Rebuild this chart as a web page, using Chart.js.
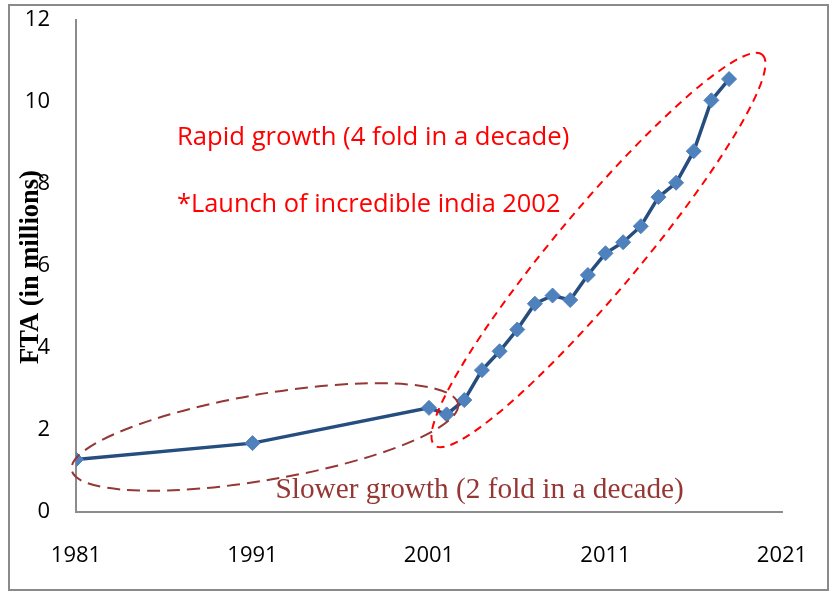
<!DOCTYPE html>
<html>
<head>
<meta charset="utf-8">
<script src="https://cdn.jsdelivr.net/npm/chart.js@4/dist/chart.umd.min.js"></script>
<style>
  html, body { margin: 0; padding: 0; background: #fff; }
  #wrap { width: 835px; height: 595px; position: relative; }
</style>
</head>
<body>
<div id="wrap"><canvas id="ftaChart" width="835" height="595"></canvas></div>
<script>
// data
const years = [1981, 1991, 2001, 2002, 2003, 2004, 2005, 2006, 2007, 2008, 2009, 2010, 2011, 2012, 2013, 2014, 2015, 2016, 2017, 2018];
const fta = [1.28, 1.68, 2.54, 2.38, 2.73, 3.46, 3.92, 4.45, 5.08, 5.28, 5.17, 5.78, 6.31, 6.58, 6.97, 7.68, 8.03, 8.80, 10.04, 10.56];
const xTicks = [1981, 1991, 2001, 2011, 2021];
const yTicks = [0, 2, 4, 6, 8, 10, 12];
const yTitle = 'FTA (in millions)';
const rapidNotes = ['Rapid growth (4 fold in a decade)', '*Launch of incredible india 2002'];
const slowNote = 'Slower growth (2 fold in a decade)';

// draw text scaled so it spans the given width
const fitText = (ctx, text, px, py, width, family, weight) => {
    ctx.font = `${weight} 20px ${family}`;
    const size = 20 * width / ctx.measureText(text).width;
    ctx.font = `${weight} ${size.toFixed(1)}px ${family}`;
    ctx.fillText(text, px, py);
};

// Frame + annotations drawn on top of the chart
const annotations = {
    id: 'annotations',
    beforeDraw(chart) {
        const ctx = chart.ctx;
        ctx.save();
        ctx.fillStyle = '#fff';
        ctx.fillRect(0, 0, chart.width, chart.height);
        ctx.strokeStyle = '#8a8a8a';
        ctx.lineWidth = 2;
        ctx.strokeRect(9, 5, 819, 585);
        ctx.restore();
    },
    afterDraw(chart) {
        const ctx = chart.ctx;
        const x = chart.scales.x;
        const y = chart.scales.y;

        const ellipse = (year, val, rx, ry, deg, color, dash, width) => {
            ctx.save();
            ctx.beginPath();
            ctx.ellipse(x.getPixelForValue(year), y.getPixelForValue(val), rx, ry, deg * Math.PI / 180, 0, Math.PI * 2);
            ctx.setLineDash(dash);
            ctx.strokeStyle = color;
            ctx.lineWidth = width;
            ctx.stroke();
            ctx.restore();
        };

        // Slower growth ellipse
        ellipse(1991.7, 1.83, 196, 43, -9.7, '#953735', [13, 7], 2);
        // Rapid growth ellipse
        ellipse(2010.6, 6.39, 255, 42, -50, '#ff0000', [8, 6], 2);

        ctx.save();
        ctx.textBaseline = 'alphabetic';
        ctx.fillStyle = '#ff0000';
        fitText(ctx, rapidNotes[0], x.getPixelForValue(1986.72), 145, 393, '"Open Sans"', 'normal');
        fitText(ctx, rapidNotes[1], x.getPixelForValue(1986.72), 212, 383, '"Open Sans"', 'normal');

        ctx.fillStyle = '#953735';
        fitText(ctx, slowNote, x.getPixelForValue(1992.3), 498, 408, '"Liberation Serif"', 'normal');

        // y axis title
        ctx.fillStyle = '#000';
        ctx.translate(38, 267);
        ctx.rotate(-Math.PI / 2);
        ctx.textAlign = 'center';
        fitText(ctx, yTitle, 0, 0, 194, '"Liberation Serif"', 'bold');
        ctx.restore();
    }
};

new Chart(document.getElementById('ftaChart'), {
    type: 'line',
    data: {
        datasets: [{
            label: 'FTA',
            data: years.map((yr, i) => ({ x: yr, y: fta[i] })),
            borderColor: '#254d7f',
            borderWidth: 3.5,
            pointStyle: 'rectRot',
            pointRadius: 7.5,
            pointBackgroundColor: '#4f81bd',
            pointBorderColor: '#4f81bd',
            pointBorderWidth: 1,
            tension: 0,
        }],
    },
    options: {
        responsive: false,
        animation: false,
        events: [],
        layout: {
            autoPadding: false,
            padding: { left: 0, top: 20, right: 53, bottom: 0 },
        },
        plugins: {
            legend: { display: false },
            tooltip: { enabled: false },
        },
        scales: {
            x: {
                type: 'linear',
                min: 1981,
                max: 2021,
                afterBuildTicks: (scale) => { scale.ticks = xTicks.map(v => ({ value: v })); },
                afterFit: (scale) => { scale.height = 83; scale.paddingLeft = 0; scale.paddingRight = 0; },
                grid: { display: false, drawTicks: false },
                border: { color: '#8c8c8c', width: 2 },
                ticks: {
                    padding: 31,
                    color: '#000',
                    font: { family: 'Open Sans', size: 22 },
                    maxRotation: 0,
                    callback: (v) => String(v),
                },
            },
            y: {
                min: 0,
                max: 12,
                afterBuildTicks: (scale) => { scale.ticks = yTicks.map(v => ({ value: v })); },
                afterFit: (scale) => { scale.width = 76; scale.paddingTop = 0; scale.paddingBottom = 0; },
                grid: { display: false, drawTicks: false },
                border: { color: '#8c8c8c', width: 2 },
                ticks: {
                    padding: 26,
                    color: '#000',
                    font: { family: 'Open Sans', size: 22 },
                },
            },
        },
    },
    plugins: [annotations],
});
</script>
</body>
</html>
